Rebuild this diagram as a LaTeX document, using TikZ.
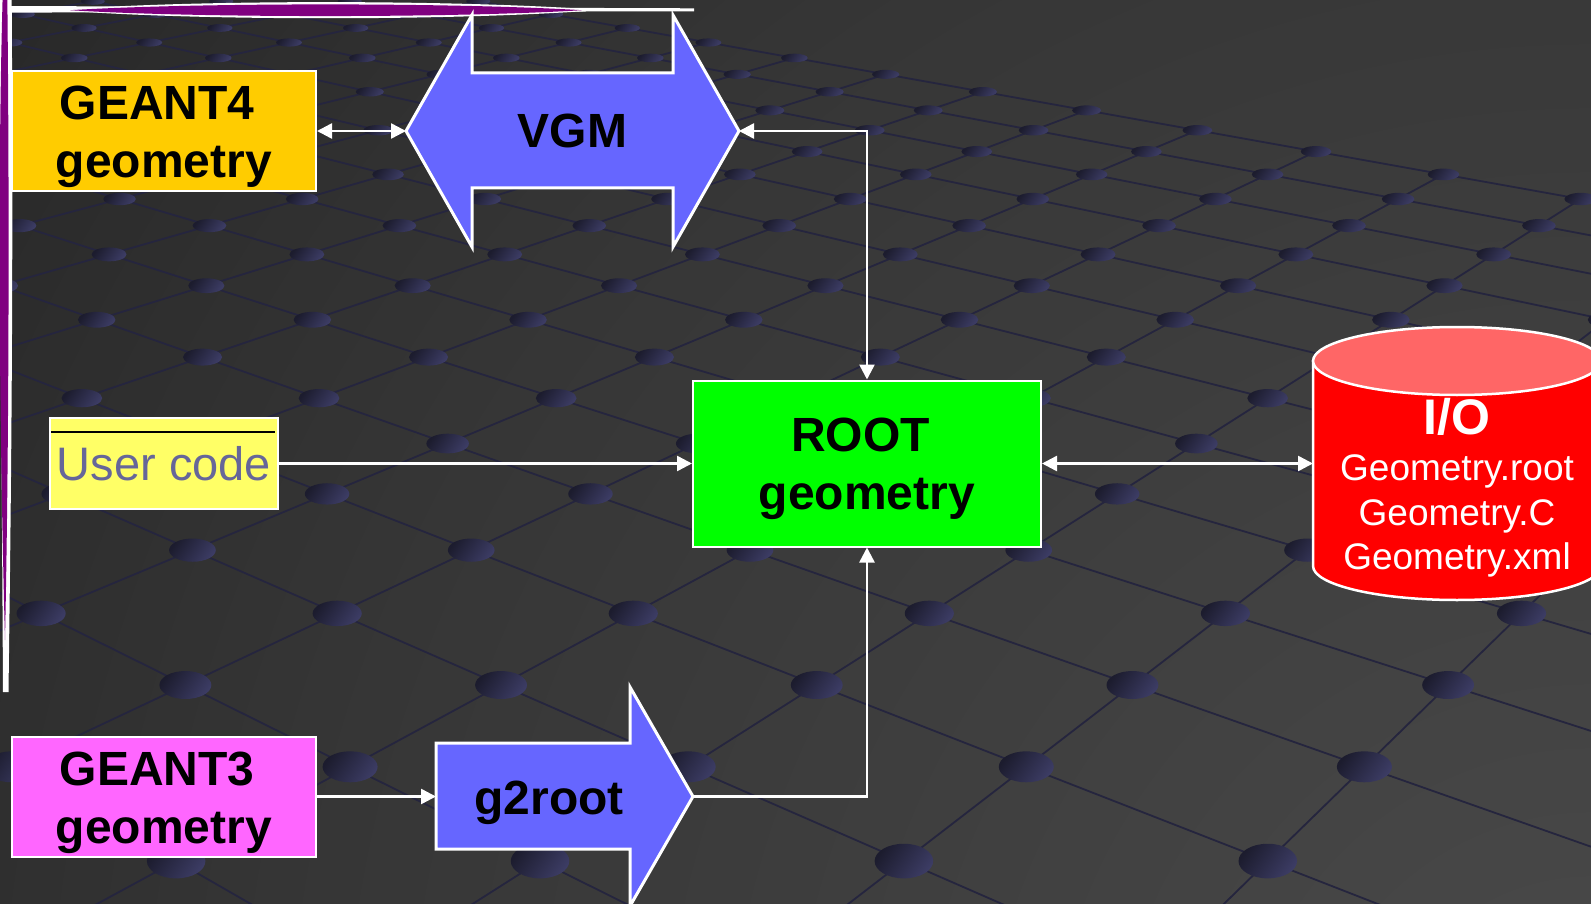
\documentclass[tikz,border=0pt]{standalone}
\usepackage{fontspec}
\setmainfont{Liberation Sans}
\usetikzlibrary{arrows.meta}

\definecolor{bgA}{HTML}{4A4A4A}
\definecolor{bgB}{HTML}{363636}
\definecolor{bgC}{HTML}{272727}
\definecolor{bgD}{HTML}{202020}
\definecolor{bgE}{HTML}{1A1A1A}
\definecolor{bgF}{HTML}{141414}
\definecolor{gridLine}{HTML}{25253E}
\definecolor{dotTop}{HTML}{1C1C2E}
\definecolor{dotBot}{HTML}{3C3C64}
\definecolor{g4fill}{HTML}{FFCC00}
\definecolor{vgmfill}{HTML}{6666FF}
\definecolor{rootfill}{HTML}{00FF00}
\definecolor{userfill}{HTML}{FFFF66}
\definecolor{usertext}{HTML}{666699}
\definecolor{iobody}{HTML}{FF0000}
\definecolor{iotop}{HTML}{FF6666}
\definecolor{g3fill}{HTML}{FF66FF}
\definecolor{decoPurple}{HTML}{800080}

% backdrop glow, brightest towards the lower right
\pgfdeclareradialshading{floorglow}{\pgfpoint{0bp}{0bp}}{%
  color(0bp)=(bgA); color(16bp)=(bgB); color(25bp)=(bgC); color(28bp)=(bgD);
  color(40bp)=(bgE); color(50bp)=(bgF)}

\newcommand\diagbold{\fontsize{48}{58}\selectfont\bfseries}
\newcommand\diaguser{\fontsize{47}{56}\selectfont}
\newcommand\diagio{\fontsize{50}{60}\selectfont\bfseries}
\newcommand\diagfiles{\fontsize{37}{44.5}\selectfont}
% width of a trailing word space in the heading font
\newcommand\trailgap{\hbox to 0.278em{}}

% perspective floor: lattice point (u,v) -> page position (\fX,\fY)
\newcommand\floorxy[2]{%
  \pgfmathsetmacro\fD{(#2)-(#1)+15.1}%
  \pgfmathsetmacro\fX{245.9+8620/\fD+2383.5*(((#1)+(#2))/\fD)}%
  \pgfmathsetmacro\fY{-468.1+2*(8706/\fD)}%
}

\begin{document}
\begin{tikzpicture}[x=1pt,y=-1pt,
  >={Triangle[length=15pt,width=15pt]},
  gridline/.style={draw=gridLine,line width=1.8pt},
  floordot/.style={top color=dotTop,bottom color=dotBot,shading angle=55},
  box/.style={draw=white,line width=2pt,inner sep=0pt},
  ghost/.style={inner sep=0pt,outer sep=0pt},
  headtext/.style={font=\diagbold,align=center,text=black,inner sep=0pt},
  conn/.style={draw=white,line width=2.5pt}]

\useasboundingbox (0,0) rectangle (1591,904);

\begin{scope}
  \clip (0,0) rectangle (1591,904);
  % dark backdrop
  \shade[shading=floorglow] (1591,1100) circle[radius=2000];
  % floor grid lines
  \foreach \u in {-17,...,4}{
    \pgfmathtruncatemacro\va{\u-4}
    \floorxy{\u}{\va}\edef\ax{\fX}\edef\ay{\fY}
    \floorxy{\u}{11}
    \draw[gridline] (\ax,\ay) -- (\fX,\fY);
  }
  \foreach \v in {-6,...,11}{
    \pgfmathtruncatemacro\ua{\v-28}
    \pgfmathtruncatemacro\ub{\v+4}
    \floorxy{\ua}{\v}\edef\ax{\fX}\edef\ay{\fY}
    \floorxy{\ub}{\v}
    \draw[gridline] (\ax,\ay) -- (\fX,\fY);
  }
  % studs on the grid crossings
  \foreach \u in {-17,...,4}{
    \foreach \v in {-6,...,11}{
      \pgfmathtruncatemacro\kk{\v-\u}
      \ifnum\kk>-4\relax\ifnum\kk<24\relax
        \floorxy{\u}{\v}
        \ifdim\fX pt>-40pt\relax\ifdim\fX pt<1640pt\relax
          \pgfmathsetmacro\rx{27.5*(14.1/\fD)^0.85}
          \pgfmathsetmacro\ry{820.7/(\fD^1.5)}
          \shade[floordot] (\fX,\fY) ellipse[x radius=\rx,y radius=\ry];
        \fi\fi
      \fi\fi
    }
  }
  % purple corner ornament
  \fill[white] (0,6) -- (694,8.3) -- (694,11.3) -- (0,12.6) -- cycle;
  \fill[white] (58,10) .. controls (190,-0.5) and (460,-0.5) .. (600,10)
    .. controls (460,21) and (190,21) .. (58,10) -- cycle;
  \fill[decoPurple] (70,10.2) .. controls (195,2.5) and (455,2.5) .. (582,10.2)
    .. controls (455,18) and (195,18) .. (70,10.2) -- cycle;
  \fill[white] (1,0) -- (11.7,0) .. controls (13.5,300) and (11,500) .. (8.5,692)
    -- (3,692) .. controls (2,500) and (0,300) .. (0,0) -- cycle;
  \fill[decoPurple] (2.7,-5) -- (7.3,-5) .. controls (9.5,200) and (9,450) .. (5,640)
    .. controls (0,450) and (-3,200) .. (2.7,-5) -- cycle;
\end{scope}

% ---- diagram blocks ----
\node[box,fill=g4fill,minimum width=304,minimum height=120] (g4) at (164,131) {};
\node[headtext] (g4text) at ([yshift=-6pt]g4.center) {GEANT4\trailgap\\geometry};

\fill[vgmfill] (406,131) -- (472,15) -- (472,73) -- (673,73) -- (673,15)
  -- (739,131) -- (673,247) -- (673,188) -- (472,188) -- (472,247) -- cycle;
\draw[white,line width=3pt] (406,131) -- (472,15) -- (472,73) -- (673,73) -- (673,15)
  -- (739,131) -- (673,247) -- (673,188) -- (472,188) -- (472,247) -- cycle;
\node[ghost,font=\diagbold,minimum width=333,minimum height=232] (vgm) at (572.5,131) {VGM};

\node[box,fill=rootfill,minimum width=348,minimum height=166] (root) at (867,463.5) {};
\node[headtext] (roottext) at ([yshift=-5pt]root.center) {ROOT\trailgap\\geometry};

\node[box,fill=userfill,minimum width=228,minimum height=91,
  font=\diaguser,text=usertext] (user) at (164,463.5) {User code};
\draw[black,line width=1.3pt] (user.north west) ++(2,15) -- ++(224,0);

\node[box,fill=g3fill,minimum width=304,minimum height=120] (g3) at (164,796.5) {};
\node[headtext] (g3text) at ([yshift=-6pt]g3.center) {GEANT3\trailgap\\geometry};

\fill[vgmfill] (436,743) -- (630,743) -- (630,687) -- (693,796.5) -- (630,906)
  -- (630,849) -- (436,849) -- cycle;
\draw[white,line width=3pt] (436,743) -- (630,743) -- (630,687) -- (693,796.5) -- (630,906)
  -- (630,849) -- (436,849) -- cycle;
\node[ghost,minimum width=257,minimum height=106] (g2r) at (564.5,796.5) {};
\node[headtext] (g2rtext) at (549,803) {g2root};

% I/O drum
\filldraw[fill=iobody,draw=white,line width=2.5pt] (1313,361) -- (1313,566)
  arc[start angle=180,end angle=0,x radius=144,y radius=34] -- (1601,361) -- cycle;
\node[ghost,minimum width=288,minimum height=273] (io) at (1457,463.5) {};
\node[ghost,font=\diagio,text=white] (iotext) at (1457,416.5) {I/O};
\node[ghost,font=\diagfiles,text=white,align=center] (iofiles) at (1457,516)
  {Geometry.root\\Geometry.C\\Geometry.xml};
\filldraw[fill=iotop,draw=white,line width=2.5pt] (1457,361) ellipse[x radius=144,y radius=34];

% ---- connectors ----
\draw[conn,<->] (g4.east) -- (vgm.west);
\draw[conn,<->] (vgm.east) -| (root.north);
\draw[conn,->] (user.east) -- (user.east -| root.west);
\draw[conn,<->] (root.east) -- (io.west);
\draw[conn,->] (g3.east) -- (g2r.west);
\draw[conn,->] (g2r.east) -| (root.south);
\end{tikzpicture}
\end{document}
